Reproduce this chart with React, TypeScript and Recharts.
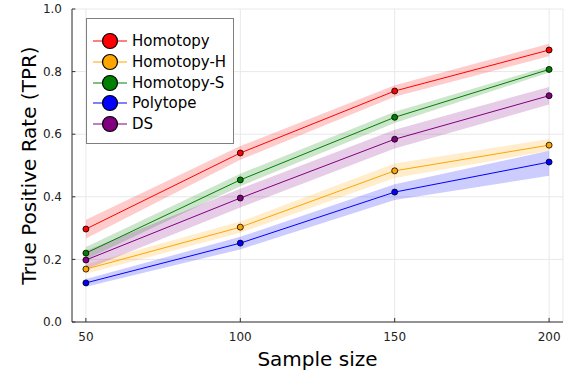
import React from 'react';
import { ComposedChart, Area, Line, CartesianGrid, XAxis, YAxis, ReferenceLine } from 'recharts';

const sampleSizes = [50, 100, 150, 200];

const homotopy = [0.297, 0.54, 0.738, 0.869];
const homotopyH = [0.169, 0.303, 0.483, 0.565];
const homotopyS = [0.22, 0.454, 0.654, 0.807];
const polytope = [0.125, 0.252, 0.415, 0.511];
const ds = [0.198, 0.396, 0.584, 0.723];

// ribbon bounds
const homotopyLo = [0.267, 0.518, 0.72, 0.849];
const homotopyHi = [0.327, 0.562, 0.756, 0.889];
const homotopyHLo = [0.154, 0.285, 0.46, 0.547];
const homotopyHHi = [0.184, 0.321, 0.506, 0.585];
const homotopySLo = [0.2, 0.434, 0.636, 0.797];
const homotopySHi = [0.24, 0.474, 0.672, 0.817];
const polytopeLo = [0.113, 0.232, 0.39, 0.467];
const polytopeHi = [0.137, 0.272, 0.44, 0.547];
const dsLo = [0.168, 0.366, 0.554, 0.695];
const dsHi = [0.228, 0.426, 0.614, 0.751];

const yTicks = [0, 0.2, 0.4, 0.6, 0.8, 1.0];

const series = [
  { key: 'homotopy', name: 'Homotopy', color: '#ff0000', vals: homotopy, lo: homotopyLo, hi: homotopyHi },
  { key: 'homotopyH', name: 'Homotopy-H', color: '#ffa500', vals: homotopyH, lo: homotopyHLo, hi: homotopyHHi },
  { key: 'homotopyS', name: 'Homotopy-S', color: '#008000', vals: homotopyS, lo: homotopySLo, hi: homotopySHi },
  { key: 'polytope', name: 'Polytope', color: '#0000ff', vals: polytope, lo: polytopeLo, hi: polytopeHi },
  { key: 'ds', name: 'DS', color: '#800080', vals: ds, lo: dsLo, hi: dsHi },
];

const data = sampleSizes.map((n, i) => {
  const row: any = { n };
  series.forEach((s) => {
    row[s.key] = s.vals[i];
    row[s.key + 'Band'] = [s.lo[i], s.hi[i]];
  });
  return row;
});

const font = 'DejaVu Sans, sans-serif';

function Legend() {
  return (
    <div
      style={{
        position: 'absolute',
        left: 86,
        top: 18,
        width: 148,
        height: 126,
        border: '1px solid #7f7f7f',
        background: '#fff',
        boxSizing: 'border-box',
        fontFamily: font,
        fontSize: 15,
        color: '#000',
      }}
    >
      {series.map((s, i) => (
        <div key={s.key} style={{ position: 'absolute', left: 6, top: 12 + i * 20.8, height: 20, display: 'flex', alignItems: 'center' }}>
          <svg width={34} height={20}>
            <line x1={0} y1={10} x2={34} y2={10} stroke={s.color} strokeWidth={1} />
            <circle cx={17} cy={10} r={7.5} fill={s.color} stroke="#000" strokeWidth={1.2} />
          </svg>
          <span style={{ marginLeft: 5, lineHeight: '20px' }}>{s.name}</span>
        </div>
      ))}
    </div>
  );
}

export default function App() {
  return (
    <div style={{ position: 'absolute', left: 0, top: 0, width: 568, height: 379, background: '#fff' }}>
      <ComposedChart width={568} height={379} data={data} margin={{ top: 9, right: 5, bottom: 0, left: 0 }}>
        <CartesianGrid stroke="#e8e8e8" strokeWidth={1} />
        <XAxis
          dataKey="n"
          type="number"
          domain={[45.5, 204.5]}
          ticks={sampleSizes}
          height={57}
          tickLine={false}
          axisLine={{ stroke: '#333' }}
          tick={{ fontSize: 12, fill: '#222', fontFamily: font }}
          tickMargin={4}
          label={{ value: 'Sample size', position: 'insideBottom', offset: 13, fontSize: 20, fill: '#000', fontFamily: font }}
        />
        <YAxis
          type="number"
          domain={[0, 1]}
          ticks={yTicks}
          width={72}
          tickLine={false}
          axisLine={{ stroke: '#333' }}
          tickFormatter={(v: number) => v.toFixed(1)}
          tick={{ fontSize: 12, fill: '#222', fontFamily: font }}
          tickMargin={4}
          label={{ value: 'True Positive Rate (TPR)', angle: -90, position: 'insideLeft', offset: 29, fontSize: 20, fill: '#000', fontFamily: font, style: { textAnchor: 'middle' } }}
        />
        {yTicks.map((t) => (
          <ReferenceLine key={'yt' + t} segment={[{ x: 45.5, y: t }, { x: 46.6, y: t }]} stroke="#333" />
        ))}
        {sampleSizes.map((t) => (
          <ReferenceLine key={'xt' + t} segment={[{ x: t, y: 0 }, { x: t, y: 0.013 }]} stroke="#333" />
        ))}
        {series.map((s) => (
          <Area
            key={s.key + 'Band'}
            dataKey={s.key + 'Band'}
            type="linear"
            stroke="none"
            fill={s.color}
            fillOpacity={0.2}
            isAnimationActive={false}
            activeDot={false}
          />
        ))}
        {series.map((s) => (
          <Line
            key={s.key}
            dataKey={s.key}
            type="linear"
            stroke={s.color}
            strokeWidth={1}
            dot={{ r: 3, fill: s.color, stroke: '#000', strokeWidth: 0.8 }}
            activeDot={false}
            isAnimationActive={false}
          />
        ))}
      </ComposedChart>
      <Legend />
    </div>
  );
}
